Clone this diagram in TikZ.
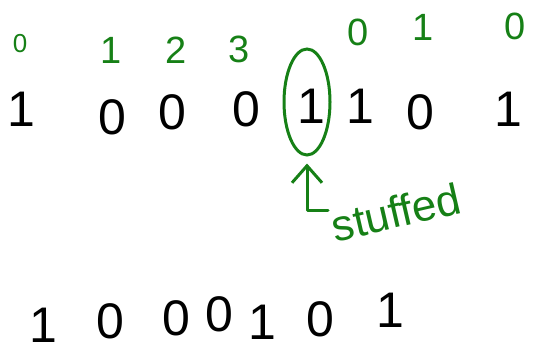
\documentclass[tikz,border=0pt]{standalone}
\usepackage{fontspec}
\setmainfont{Liberation Sans}
\usetikzlibrary{shapes.geometric,arrows.meta}
\definecolor{inkgreen}{RGB}{22,128,22}
\definecolor{inkblack}{RGB}{0,0,0}
\tikzset{
  bit/.style={inner sep=0pt, text=inkblack, font=\fontsize{50}{50}\selectfont},
  idx/.style={inner sep=0pt, text=inkgreen, font=\fontsize{38}{38}\selectfont},
  idxsmall/.style={inner sep=0pt, text=inkgreen, font=\fontsize{26}{26}\selectfont},
  ring/.style={draw=inkgreen, line width=3pt, ellipse, inner sep=0pt},
  pointer/.style={draw=inkgreen, line width=3pt, line cap=round, line join=round,
    -{Straight Barb[length=17pt,width=30pt,line width=3pt]}},
  note/.style={inner sep=0pt, text=inkgreen, font=\fontsize{44}{44}\selectfont, rotate=13}
}
\begin{document}
\begin{tikzpicture}[x=1pt,y=-1pt]
\useasboundingbox (0,0) rectangle (540,356);
% green index labels
\node[idxsmall] (i0) at (20,44) {0};
\node[idx] (i1) at (111,50) {1};
\node[idx] (i2) at (176,50) {2};
\node[idx] (i3) at (239,49) {3};
\node[idx] (j0) at (358,32) {0};
\node[idx] (j1) at (423,27) {1};
\node[idx] (j2) at (515,26) {0};
% top row bits
\node[bit] (t1) at (21,109) {1};
\node[bit] (t2) at (112,117) {0};
\node[bit] (t3) at (172,112) {0};
\node[bit] (t4) at (246,109) {0};
\node[bit] (t5) at (311,106) {1};
\node[bit] (t6) at (360,106) {1};
\node[bit] (t7) at (420,112) {0};
\node[bit] (t8) at (508,109) {1};
% stuffed bit ring
\node[ring, minimum width=46pt, minimum height=106pt] (ell) at (307,102) {};
% label and pointer
\node[note] (lbl) at (396,212) {stuffed};
\coordinate (tail) at (328,210);
\draw[pointer] (tail) -| ([yshift=-7pt]ell.south);
% bottom row bits
\node[bit] (b1) at (43,325) {1};
\node[bit] (b2) at (110,321) {0};
\node[bit] (b3) at (176,318) {0};
\node[bit] (b4) at (219,314) {0};
\node[bit] (b5) at (262,322) {1};
\node[bit] (b6) at (320,319) {0};
\node[bit] (b7) at (390,310) {1};
\end{tikzpicture}
\end{document}
